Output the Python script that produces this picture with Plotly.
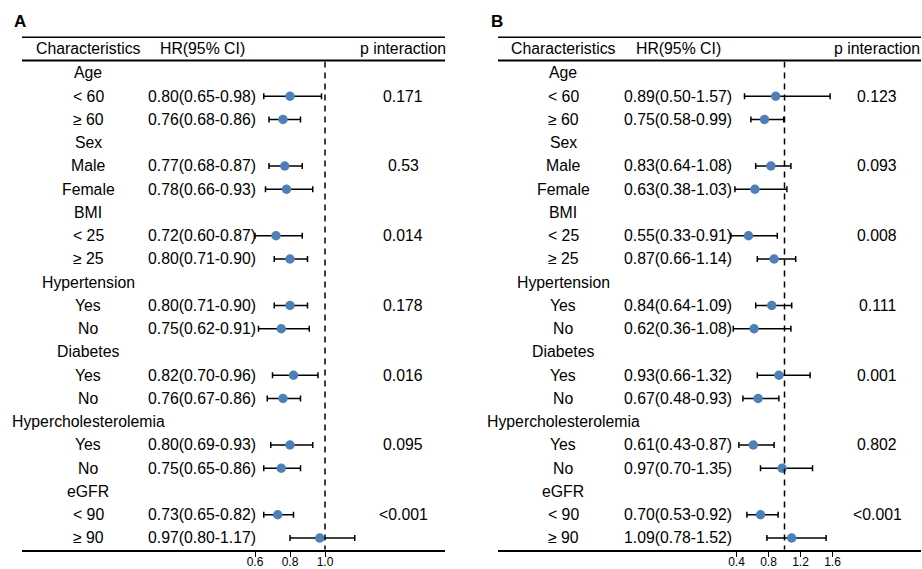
import plotly.graph_objects as go

# ---------------- data ----------------
labels = ["Age", "< 60", "≥ 60", "Sex", "Male", "Female", "BMI", "< 25", "≥ 25",
          "Hypertension", "Yes", "No", "Diabetes", "Yes", "No",
          "Hypercholesterolemia", "Yes", "No", "eGFR", "< 90", "≥ 90"]

# Panel A
hr_a = [None, 0.80, 0.76, None, 0.77, 0.78, None, 0.72, 0.80, None, 0.80, 0.75,
        None, 0.82, 0.76, None, 0.80, 0.75, None, 0.73, 0.97]
lo_a = [None, 0.65, 0.68, None, 0.68, 0.66, None, 0.60, 0.71, None, 0.71, 0.62,
        None, 0.70, 0.67, None, 0.69, 0.65, None, 0.65, 0.80]
hi_a = [None, 0.98, 0.86, None, 0.87, 0.93, None, 0.87, 0.90, None, 0.90, 0.91,
        None, 0.96, 0.86, None, 0.93, 0.86, None, 0.82, 1.17]
p_a = ["", "0.171", "", "", "0.53", "", "", "0.014", "", "", "0.178", "",
       "", "0.016", "", "", "0.095", "", "", "<0.001", ""]
ticks_a = [0.6, 0.8, 1.0]
ticktext_a = ["0.6", "0.8", "1.0"]

# Panel B
hr_b = [None, 0.89, 0.75, None, 0.83, 0.63, None, 0.55, 0.87, None, 0.84, 0.62,
        None, 0.93, 0.67, None, 0.61, 0.97, None, 0.70, 1.09]
lo_b = [None, 0.50, 0.58, None, 0.64, 0.38, None, 0.33, 0.66, None, 0.64, 0.36,
        None, 0.66, 0.48, None, 0.43, 0.70, None, 0.53, 0.78]
hi_b = [None, 1.57, 0.99, None, 1.08, 1.03, None, 0.91, 1.14, None, 1.09, 1.08,
        None, 1.32, 0.93, None, 0.87, 1.35, None, 0.92, 1.52]
p_b = ["", "0.123", "", "", "0.093", "", "", "0.008", "", "", "0.111", "",
       "", "0.001", "", "", "0.802", "", "", "<0.001", ""]
ticks_b = [0.4, 0.8, 1.2, 1.6]
ticktext_b = ["0.4", "0.8", "1.2", "1.6"]

headers = ["Characteristics", "HR(95% CI)", "p interaction"]
panel_titles = ["A", "B"]
ref_line = 1.0

# ---------------- layout constants ----------------
W, H = 922, 569
FONT = "Liberation Sans, Arial, sans-serif"
FS = 15.8
PT_COLOR = "#4D80B8"

ROW0 = 73.0
ROWH = 23.25
n = len(labels)
top_px = ROW0 - 0.5 * ROWH
bot_px = ROW0 + (n - 0.5) * ROWH


def px(x):
    return x / W


def py(y):
    return 1 - y / H


panels = [
    dict(hr=hr_a, lo=lo_a, hi=hi_a, p=p_a, ticks=ticks_a, ticktext=ticktext_a,
         x0=22, x1=445, ppu=175.0, ref_px=325.0,
         col_lab=88, col_hr=202, col_p=403, title_x=12, xa="x", xname="xaxis"),
    dict(hr=hr_b, lo=lo_b, hi=hi_b, p=p_b, ticks=ticks_b, ticktext=ticktext_b,
         x0=498, x1=921, ppu=80.0, ref_px=784.5,
         col_lab=563, col_hr=678, col_p=877, title_x=489, xa="x2", xname="xaxis2"),
]

fig = go.Figure()
annotations = []
shapes = []
layout_axes = {}

for k, P in enumerate(panels):
    idx = [i for i, v in enumerate(P["hr"]) if v is not None]
    est = [P["hr"][i] for i in idx]
    lo = [P["lo"][i] for i in idx]
    hi = [P["hi"][i] for i in idx]
    fig.add_trace(go.Scatter(
        x=est, y=idx, mode="markers", xaxis=P["xa"], yaxis="y",
        marker=dict(color=PT_COLOR, size=9.5, line=dict(width=0)),
        error_x=dict(type="data", symmetric=False,
                     array=[h - e for h, e in zip(hi, est)],
                     arrayminus=[e - l for e, l in zip(est, lo)],
                     color="black", thickness=1.5, width=3),
        cliponaxis=False, showlegend=False, hoverinfo="skip"))

    rng0 = ref_line - (P["ref_px"] - P["x0"]) / P["ppu"]
    rng1 = ref_line + (P["x1"] - P["ref_px"]) / P["ppu"]
    layout_axes[P["xname"]] = dict(
        domain=[px(P["x0"]), px(P["x1"])], range=[rng0, rng1], anchor="y",
        tickvals=P["ticks"], ticktext=P["ticktext"], ticks="outside",
        ticklen=5, tickwidth=1.2, tickcolor="black", ticklabelstandoff=-5,
        showline=True, linecolor="black", linewidth=2,
        showgrid=False, zeroline=False, automargin=False,
        tickfont=dict(family=FONT, size=12, color="#000000"))

    # reference dashed line
    shapes.append(dict(type="line", xref=P["xa"], yref="y", x0=ref_line, x1=ref_line,
                       y0=-0.5, y1=n - 0.5,
                       line=dict(color="black", width=1.5, dash="6px,5px")))
    # top and header lines
    shapes.append(dict(type="line", xref="paper", yref="paper",
                       x0=px(P["x0"]), x1=px(P["x1"]), y0=py(37.3), y1=py(37.3),
                       line=dict(color="black", width=1.5)))
    shapes.append(dict(type="line", xref="paper", yref="paper",
                       x0=px(P["x0"]), x1=px(P["x1"]), y0=py(60.5), y1=py(60.5),
                       line=dict(color="black", width=2)))

    # headers
    for txt, cx in zip(headers, [P["col_lab"], P["col_hr"], P["col_p"]]):
        annotations.append(dict(text=txt, x=px(cx), y=py(48), xref="paper", yref="paper",
                                xanchor="center", yanchor="middle", showarrow=False,
                                font=dict(family=FONT, size=FS, color="black")))
    # panel title
    annotations.append(dict(text="<b>" + panel_titles[k] + "</b>", x=px(P["title_x"]), y=py(22),
                            xref="paper", yref="paper", xanchor="left", yanchor="middle",
                            showarrow=False, font=dict(family=FONT, size=17, color="black")))

    # row texts
    for i, lab in enumerate(labels):
        annotations.append(dict(text=lab, x=px(P["col_lab"]), y=i, xref="paper", yref="y",
                                xanchor="center", yanchor="middle", showarrow=False,
                                font=dict(family=FONT, size=FS, color="black")))
        if P["hr"][i] is not None:
            t = "{:.2f}({:.2f}-{:.2f})".format(P["hr"][i], P["lo"][i], P["hi"][i])
            annotations.append(dict(text=t, x=px(P["col_hr"]), y=i, xref="paper", yref="y",
                                    xanchor="center", yanchor="middle", showarrow=False,
                                    font=dict(family=FONT, size=FS, color="black")))
        if P["p"][i]:
            annotations.append(dict(text=P["p"][i], x=px(P["col_p"]), y=i, xref="paper", yref="y",
                                    xanchor="center", yanchor="middle", showarrow=False,
                                    font=dict(family=FONT, size=FS, color="black")))

fig.update_layout(
    template="none",
    width=W, height=H,
    margin=dict(l=0, r=0, t=0, b=0, pad=0),
    paper_bgcolor="white", plot_bgcolor="white",
    showlegend=False,
    font=dict(family=FONT, color="black"),
    yaxis=dict(domain=[1 - bot_px / H, 1 - top_px / H], range=[n - 0.5, -0.5],
               visible=False, showgrid=False, zeroline=False, automargin=False),
    annotations=annotations, shapes=shapes,
    **layout_axes,
)

fig.write_html("out.html", config={"displayModeBar": False},
               post_script="document.body.style.margin='0';document.body.style.padding='0';"
                           "document.body.style.overflow='hidden';")
